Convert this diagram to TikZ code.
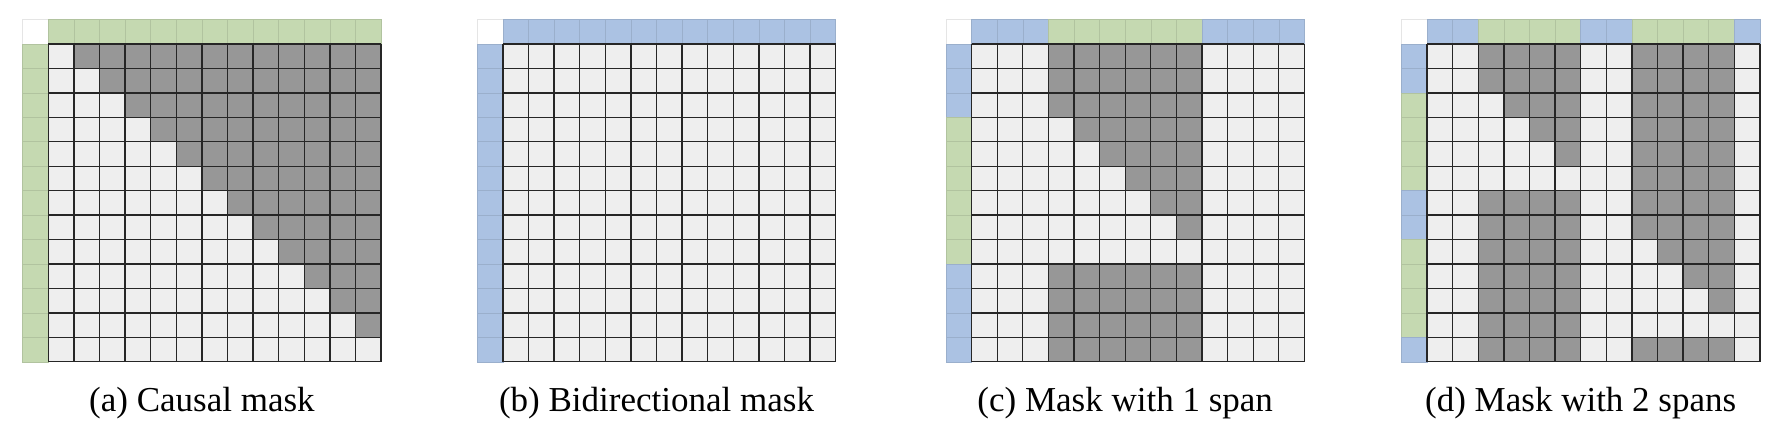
\documentclass[tikz,border=0pt]{standalone}
\usepackage{fontspec}
\setmainfont{Liberation Serif}
\usepackage{xcolor}
\usepackage{tikz}
\usetikzlibrary{positioning,calc}

\definecolor{spangreen}{RGB}{197,217,177}
\definecolor{ctxblue}{RGB}{171,194,227}
\definecolor{masklight}{RGB}{238,238,238}
\definecolor{maskdark}{RGB}{151,151,151}

\begin{document}
\begin{tikzpicture}[x=0.5pt, y=-0.5pt,
    gridline/.style={black!85, line width=0.65pt},
    headcell/.style={line width=0.3pt},
    caption/.style={font=\fontsize{17.5}{21}\selectfont, anchor=base}]
    \useasboundingbox (0,0) rectangle (1782,428);

    % Cell size and top of the header row
    \def\cw{25.6}
    \def\ch{24.45}
    \def\gy{19.5}

    % Token types: 0 = context (blue), k = k-th span (green)
    \def\spansA{1,1,1,1,1,1,1,1,1,1,1,1,1}
    \def\spansB{0,0,0,0,0,0,0,0,0,0,0,0,0}
    \def\spansC{0,0,0,1,1,1,1,1,1,0,0,0,0}
    \def\spansD{0,0,1,1,1,1,0,0,2,2,2,2,0}

    \foreach \px/\lbl/\cap/\spans in {22.7/a/Causal mask/\spansA,
                                      477.3/b/Bidirectional mask/\spansB,
                                      946/c/Mask with 1 span/\spansC,
                                      1401.5/d/Mask with 2 spans/\spansD} {
        \edef\spanlist{\spans}

        % Corner
        \filldraw[fill=white, draw=gray!20, headcell] (\px,\gy) rectangle +(\cw,\ch);

        % Header row and column
        \foreach \sj [count=\j from 0] in \spanlist {
            \ifnum\sj=0 \def\hc{ctxblue}\else\def\hc{spangreen}\fi
            \filldraw[fill=\hc, draw=\hc!90!black, headcell] ({\px+(\j+1)*\cw},\gy) rectangle +(\cw,\ch);
            \filldraw[fill=\hc, draw=\hc!90!black, headcell] (\px,{\gy+(\j+1)*\ch}) rectangle +(\cw,\ch);
        }

        % Mask cells
        \foreach \si [count=\i from 0] in \spanlist {
            \foreach \sj [count=\j from 0] in \spanlist {
                \pgfmathtruncatemacro\dk{(\sj>0)&&((\si!=\sj)||(\j>\i))}
                \ifnum\dk=1 \def\cc{maskdark}\else\def\cc{masklight}\fi
                \fill[\cc] ({\px+(\j+1)*\cw},{\gy+(\i+1)*\ch}) rectangle +(\cw,\ch);
            }
        }

        % Grid lines
        \foreach \k in {0,...,13} {
            \draw[gridline] ({\px+(\k+1)*\cw},{\gy+\ch}) -- +(0,{13*\ch});
            \draw[gridline] ({\px+\cw},{\gy+(\k+1)*\ch}) -- +({13*\cw},0);
        }

        % Caption
        \node[caption] (cap\lbl) at ({\px+7*\cw},411.7) {(\lbl) \cap};
    }
\end{tikzpicture}
\end{document}
